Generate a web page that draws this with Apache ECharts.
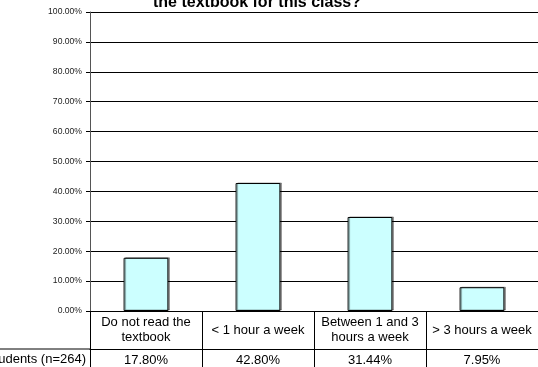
<!DOCTYPE html>
<html>
<head>
<meta charset="utf-8">
<script src="https://cdn.jsdelivr.net/npm/echarts@6/dist/echarts.min.js"></script>
<style>
  html, body { margin: 0; padding: 0; background: #fff; }
  #chart { width: 538px; height: 367px; }
</style>
</head>
<body>
<div id="chart"></div>
<script>
// data
var categories = ['Do not read the\ntextbook', '< 1 hour a week', 'Between 1 and 3\nhours a week', '> 3 hours a week'];
var values = [17.80, 42.80, 31.44, 7.95];
var seriesName = 'Students (n=264)';
var titleText = 'the textbook for this class?';

var valueLabels = values.map(function (v) { return v.toFixed(2) + '%'; });
var font = 'Liberation Sans, Arial, sans-serif';
var tableSize = 13;

var chart = echarts.init(document.getElementById('chart'));
chart.setOption({
  animation: false,
  backgroundColor: '#fff',
  title: {
    text: titleText,
    left: 252,
    textAlign: 'center',
    top: -10,
    textStyle: { fontFamily: font, fontSize: 16, fontWeight: 'bold', color: '#000' }
  },
  grid: { left: 90, top: 12, width: 454, bottom: 56, containLabel: false },
  xAxis: [{
    type: 'category',
    data: categories,
    position: 'bottom',
    axisLine: { lineStyle: { color: '#000', width: 1 } },
    axisTick: { show: true, length: 56, interval: 0, alignWithLabel: false, lineStyle: { color: '#000' } },
    axisLabel: {
      interval: 0, margin: 19, verticalAlign: 'middle',
      fontFamily: font, fontSize: tableSize, color: '#000', lineHeight: 14.6
    }
  }, {
    type: 'category',
    data: valueLabels,
    position: 'bottom',
    offset: 38,
    axisLine: { lineStyle: { color: '#000', width: 1 } },
    axisTick: { show: false },
    axisLabel: { interval: 0, margin: 11, verticalAlign: 'middle', fontFamily: font, fontSize: tableSize, color: '#000' }
  }],
  yAxis: {
    type: 'value',
    min: 0,
    max: 100,
    interval: 10,
    axisLine: { show: true, lineStyle: { color: '#555' } },
    axisTick: { show: true, length: 4, lineStyle: { color: '#000' } },
    axisLabel: {
      margin: 8,
      fontFamily: font, fontSize: 8.6, color: '#222',
      formatter: function (v) { return v.toFixed(2) + '%'; }
    },
    splitLine: { show: true, lineStyle: { color: '#000', width: 1 } }
  },
  series: [{
    name: seriesName,
    type: 'bar',
    data: values,
    barWidth: '40%',
    itemStyle: {
      color: '#CCFFFF',
      borderColor: '#000',
      borderWidth: 1,
      shadowColor: 'rgba(0,0,0,0.35)',
      shadowOffsetX: 1.5,
      shadowOffsetY: -0.5
    }
  }],
  graphic: [{
    type: 'line',
    shape: { x1: 0, y1: 349, x2: 90, y2: 349 },
    style: { stroke: '#000', lineWidth: 1 }
  }, {
    type: 'text',
    right: 538 - 86,
    top: 353,
    style: { text: seriesName, font: tableSize + 'px ' + font, fill: '#000', textAlign: 'right' }
  }]
});
</script>
</body>
</html>
